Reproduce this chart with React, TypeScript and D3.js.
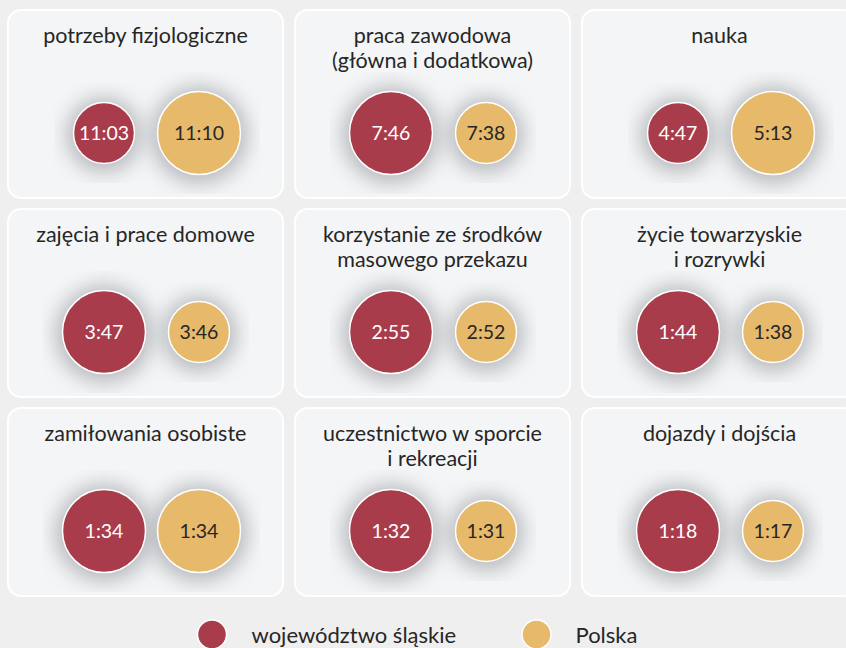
import React from 'react';
import * as d3 from 'd3';

// activity titles (lines) and average time "h:mm" per day
const categories = [
  ['potrzeby fizjologiczne'],
  ['praca zawodowa', '(główna i dodatkowa)'],
  ['nauka'],
  ['zajęcia i prace domowe'],
  ['korzystanie ze środków', 'masowego przekazu'],
  ['życie towarzyskie', 'i rozrywki'],
  ['zamiłowania osobiste'],
  ['uczestnictwo w sporcie', 'i rekreacji'],
  ['dojazdy i dojścia'],
];
const slaskie = ['11:03', '7:46', '4:47', '3:47', '2:55', '1:44', '1:34', '1:32', '1:18'];
const polska = ['11:10', '7:38', '5:13', '3:46', '2:52', '1:38', '1:34', '1:31', '1:17'];
const seriesNames = ['województwo śląskie', 'Polska'];
const seriesColors = ['#a93c4b', '#e6b96b'];

const W = 846;
const H = 648;
const FONT = 'Lato, "Open Sans", sans-serif';

const toMin = (s: string) => {
  const [h, m] = s.split(':').map(Number);
  return h * 60 + m;
};

// bigger value of a pair gets the big circle
const rScale = d3.scaleThreshold<number, number>().domain([1]).range([30.5, 41.5]);

const colX = d3.scaleLinear().domain([0, 1]).range([8, 295]);
const rowY = d3.scaleLinear().domain([0, 1]).range([10, 209]);
const panelW = 275;
const panelH = 188;
const halo = 19;

export default function App() {
  const panels = categories.map((title, i) => {
    const vals = [slaskie[i], polska[i]];
    const mins = vals.map(toMin);
    const max = d3.max(mins) as number;
    const px = colX(i % 3);
    const py = rowY(Math.floor(i / 3));
    const circles = vals.map((v, k) => ({
      label: v,
      cx: px + 96 + k * 95,
      cy: py + 123,
      r: rScale(mins[k] / max),
      color: seriesColors[k],
      text: k === 0 ? '#ffffff' : '#262626',
    }));
    return { title, px, py, circles, i };
  });

  return (
    <svg width={W} height={H} style={{ position: 'absolute', left: 0, top: 0 }} fontFamily={FONT}>
      <defs>
        {panels.flatMap((p) =>
          p.circles.map((c, k) => (
            <filter
              key={`f${p.i}-${k}`}
              id={`sh${p.i}-${k}`}
              filterUnits="userSpaceOnUse"
              x={c.cx - c.r - halo}
              y={c.cy - c.r - halo}
              width={2 * (c.r + halo)}
              height={2 * (c.r + halo)}
            >
              <feGaussianBlur stdDeviation={10} />
            </filter>
          ))
        )}
      </defs>
      <rect width={W} height={H} fill="#efefef" />
      {panels.map((p) => (
        <g key={p.i}>
          <rect
            x={p.px}
            y={p.py}
            width={panelW}
            height={panelH}
            rx={13}
            fill="#f4f5f6"
            stroke="#ffffff"
            strokeWidth={2}
          />
          <text x={p.px + panelW / 2} y={p.py + 33} textAnchor="middle" fontSize={21.5} fill="#262626">
            {p.title.map((line, j) => (
              <tspan key={j} x={p.px + panelW / 2} dy={j === 0 ? 0 : 25}>
                {line}
              </tspan>
            ))}
          </text>
          {p.circles.map((c, k) => (
            <circle
              key={`s${k}`}
              cx={c.cx}
              cy={c.cy + 2}
              r={c.r + 7}
              fill="#a2a5aa"
              opacity={0.75}
              filter={`url(#sh${p.i}-${k})`}
            />
          ))}
          {p.circles.map((c, k) => (
            <g key={`c${k}`}>
              <circle cx={c.cx} cy={c.cy} r={c.r} fill={c.color} stroke="#ffffff" strokeWidth={1.5} />
              <text x={c.cx} y={c.cy} dy="0.35em" textAnchor="middle" fontSize={19.5} fill={c.text}>
                {c.label}
              </text>
            </g>
          ))}
        </g>
      ))}
      {seriesNames.map((name, k) => (
        <g key={name}>
          <circle cx={212 + k * 324.5} cy={634.5} r={14.5} fill={seriesColors[k]} stroke="#ffffff" strokeWidth={1.5} />
          <text x={251.5 + k * 324} y={642.5} fontSize={22} fill="#262626">
            {name}
          </text>
        </g>
      ))}
    </svg>
  );
}
